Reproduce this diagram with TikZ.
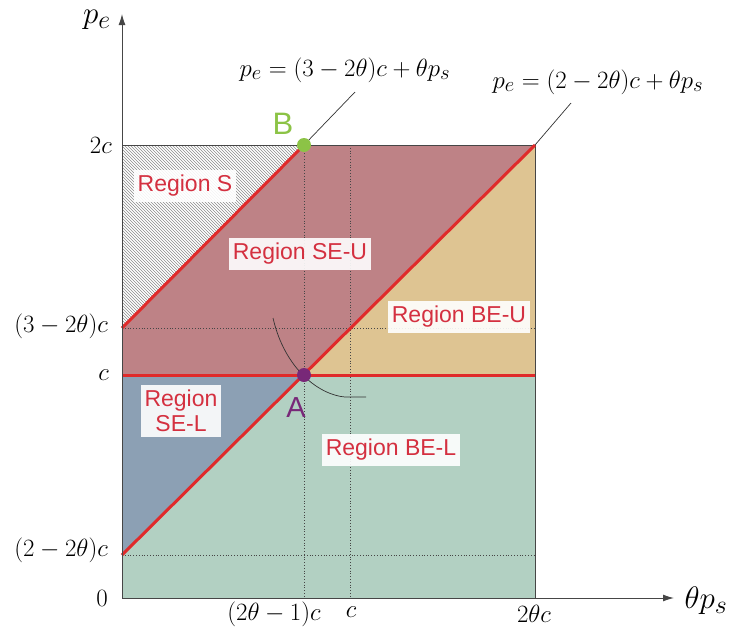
\documentclass[tikz,border=0pt]{standalone}
\usepackage{fontspec}
\setsansfont{Liberation Sans}
\usetikzlibrary{patterns,arrows.meta}
\definecolor{regS}{RGB}{140,140,140}
\definecolor{regSEU}{RGB}{190,130,134}
\definecolor{regBEU}{RGB}{222,196,146}
\definecolor{regSEL}{RGB}{140,160,180}
\definecolor{regBEL}{RGB}{178,208,194}
\definecolor{redline}{RGB}{224,42,42}
\definecolor{regtext}{RGB}{212,48,64}
\definecolor{ptA}{RGB}{120,40,120}
\definecolor{ptB}{RGB}{140,195,70}
\definecolor{axisgray}{RGB}{70,70,70}
\tikzset{
  regionlabel/.style={fill=white, fill opacity=0.9, text opacity=1, text=regtext,
    font=\sffamily\fontsize{23}{26}\selectfont, inner xsep=4pt, inner ysep=5pt, align=center},
  mathlabel/.style={font=\fontsize{24.88}{28}\selectfont, inner sep=1pt},
  axislabel/.style={font=\fontsize{24.88}{28}\selectfont, inner sep=1pt},
  redcurve/.style={draw=redline, line width=3pt},
  guide/.style={draw=axisgray, dotted, line width=0.8pt},
  callout/.style={draw=black!80, line width=0.7pt},
  dotpoint/.style={circle, inner sep=0pt, minimum size=14pt},
  axisline/.style={draw=axisgray, line width=1pt, -{Latex[length=11pt,width=7pt]}}
}
\begin{document}
\begin{tikzpicture}[x=1pt,y=-1pt]
\useasboundingbox (0,0) rectangle (732,633);
% key coordinates
\coordinate (O) at (122,598);
\coordinate (TL) at (122,145);
\coordinate (TR) at (535,145);
\coordinate (BR) at (535,598);
\coordinate (L3) at (122,328);
\coordinate (Lc) at (122,375);
\coordinate (L2) at (122,555);
\coordinate (Rc) at (535,375);
\coordinate (R3) at (535,328);
\coordinate (R2) at (535,555);
\coordinate (Bp) at (304,145);
\coordinate (Ap) at (304,375);
\coordinate (Ax) at (304,598);
\coordinate (Ct) at (350,145);
\coordinate (Cx) at (350,598);
% regions
\fill[white] (TL) -- (Bp) -- (L3) -- cycle;
\fill[pattern=north west lines, pattern color=regS] (TL) -- (Bp) -- (L3) -- cycle;
\fill[regSEU] (L3) -- (Bp) -- (TR) -- (Ap) -- (Lc) -- cycle;
\fill[regBEU] (Ap) -- (TR) -- (Rc) -- cycle;
\fill[regSEL] (Lc) -- (Ap) -- (L2) -- cycle;
\fill[regBEL] (L2) -- (Ap) -- (Rc) -- (BR) -- (O) -- cycle;
% guides
\draw[guide] (Bp) -- (Ax);
\draw[guide] (Ct) -- (Cx);
\draw[guide] (L3) -- (R3);
\draw[guide] (L2) -- (R2);
% box outline
\draw[draw=axisgray, line width=0.8pt] (TL) -- (TR) -- (BR);
% red lines
\draw[redcurve] (L3) -- (Bp);
\draw[redcurve] (L2) -- (TR);
\draw[redcurve] (Lc) -- (Rc);
% axes
\coordinate (Yend) at (122,14);
\coordinate (Xend) at (674,598);
\draw[axisline] (O) -- (Yend);
\draw[axisline] (O) -- (Xend);
\node[axislabel] (pe) at (97,20) {\scalebox{1.25}{$p_e$}};
\node[axislabel] (tps) at (706,601) {\scalebox{1.25}{$\theta p_s$}};
% tick labels
\node[mathlabel, anchor=east] (t2c) at (113,145) {$2c$};
\node[mathlabel, anchor=east] (t32) at (109,326) {$(3-2\theta)c$};
\node[mathlabel, anchor=east] (tc) at (110,375) {$c$};
\node[mathlabel, anchor=east] (t22) at (109,550) {$(2-2\theta)c$};
\node[mathlabel, anchor=east] (t0) at (109,598) {$0$};
\node[mathlabel] (x21) at (274,614) {$(2\theta-1)c$};
\node[mathlabel] (xc) at (351,612) {$c$};
\node[mathlabel] (x2t) at (534,614) {$2\theta c$};
% callouts
\node[mathlabel] (f1) at (345,70) {$p_e=(3-2\theta)c+\theta p_s$};
\node[mathlabel] (f2) at (598,82) {$p_e=(2-2\theta)c+\theta p_s$};
\coordinate (c1) at (355,92);
\coordinate (c2) at (571,103);
\draw[callout] (Bp) -- (c1);
\draw[callout] (TR) -- (c2);
\coordinate (a1) at (273,318);
\coordinate (a2) at (345,397);
\coordinate (a3) at (366,397);
\draw[callout] (a1) .. controls (285,370) and (320,395) .. (a2) -- (a3);
% points
\node[dotpoint, fill=ptB] (B) at (Bp) {};
\node[dotpoint, fill=ptA] (A) at (Ap) {};
\node[font=\sffamily\fontsize{31}{34}\selectfont, text=ptB, inner sep=0pt] (Blab) at (283,124) {B};
\node[font=\sffamily\fontsize{29}{32}\selectfont, text=ptA, inner sep=0pt] (Alab) at (296,408) {A};
% region labels
\node[regionlabel] (rS) at (185,186) {Region S};
\node[regionlabel] (rSEU) at (300,254) {Region SE-U};
\node[regionlabel] (rBEU) at (459,317) {Region BE-U};
\node[regionlabel, font=\sffamily\fontsize{23}{25}\selectfont] (rSEL) at (181,411) {Region\\SE-L};
\node[regionlabel] (rBEL) at (391,450) {Region BE-L};
\end{tikzpicture}
\end{document}
